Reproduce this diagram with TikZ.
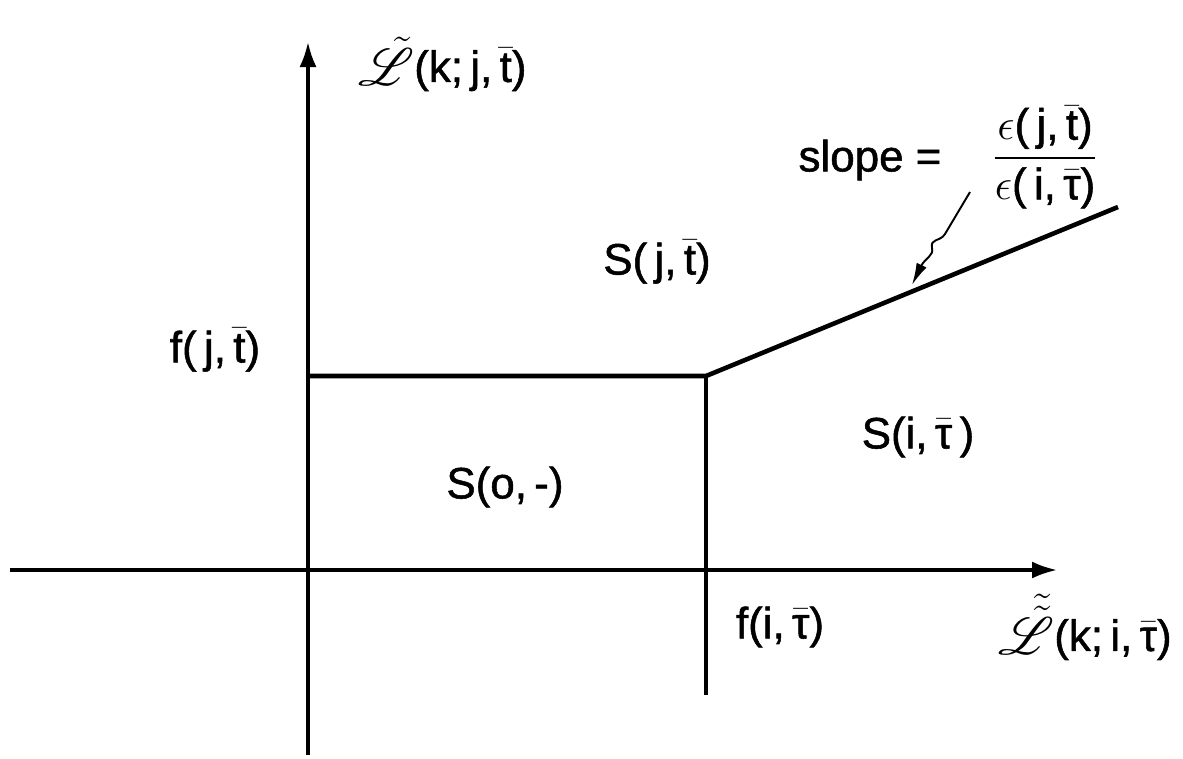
\documentclass[tikz,border=0pt]{standalone}
\usepackage{amsmath}
\usepackage{mathrsfs}
\usepackage{graphicx}
\usepackage{fontspec}
\setmainfont[FakeBold=1.2]{Liberation Sans}
\usetikzlibrary{arrows.meta}
\newcommand{\tb}[1]{\bar{\text{#1}}}
\newcommand{\bigL}[1]{\raisebox{-0.08em}{\scalebox{1.2}{$#1$}}}
\begin{document}
\begin{tikzpicture}[x=0.02cm,y=-0.02cm,
  axis/.style={line width=1.8pt,-{Latex[length=25*0.02cm,width=17*0.02cm]}},
  bound/.style={line width=2.6pt},
  vbound/.style={line width=1.9pt},
  lbl/.style={inner sep=0pt,font=\fontsize{25}{30}\selectfont},
  wav/.style={line width=1.1pt,-{Latex[length=22*0.02cm,width=11*0.02cm]}}]
\useasboundingbox (0,0) rectangle (1183,758);
% axes
\coordinate (ybot) at (308,755);
\coordinate (ytop) at (308,42);
\coordinate (xl) at (10,570);
\coordinate (xr) at (1057,570);
\draw[axis] (ybot) -- (ytop);
\draw[axis] (xl) -- (xr);
% boundaries
\coordinate (l) at (308,376);
\coordinate (c) at (706,376);
\coordinate (vb) at (706,695);
\coordinate (e) at (1118,207);
\draw[bound] (l) -- (c) -- (e);
\draw[vbound] (c) -- (vb);
% wavy arrow
\coordinate (ws) at (970,192);
\coordinate (we) at (912,285);
\draw[wav] (ws) -- (945,234) .. controls (940,242) and (930,238) .. (932,248) .. controls (934,256) and (925,258) .. (we);
% labels
\node[lbl,anchor=west] (ylab) at (358,64) {\bigL{\tilde{\mathscr{L}}}(k;\,j,\,$\tb{t}$)};
\node[lbl] (fj) at (215,350) {f(\,j,\,$\tb{t}$)};
\node[lbl] (sj) at (657,262) {S(\,j,\,$\tb{t}$)};
\node[lbl] (so) at (505,487) {S(o,\,-)};
\node[lbl] (si) at (918,437) {S(i,\,$\bar{\text{τ}}$\,)};
\node[lbl] (fi) at (780,627) {f(i,\,$\bar{\text{τ}}$)};
\node[lbl,anchor=east] (xlab) at (1172,627) {\bigL{\tilde{\tilde{\mathscr{L}}}}(k;\,i,\,$\bar{\text{τ}}$)};
\node[lbl] (slope) at (870,160) {slope =};
\node[lbl] (frac) at (1045,157) {$\dfrac{\epsilon\text{(\,j,\,}\tb{t}\text{)}}{\epsilon\text{(\,i,\,}\bar{\text{τ}}\text{)}}$};
\end{tikzpicture}
\end{document}
